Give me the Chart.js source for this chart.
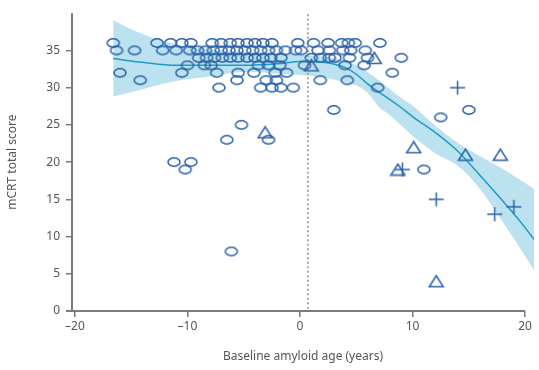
<!DOCTYPE html>
<html>
<head>
<meta charset="utf-8">
<script src="https://cdn.jsdelivr.net/npm/chart.js@4/dist/chart.umd.min.js"></script>
<style>
  html, body { margin: 0; padding: 0; background: #fff; }
</style>
</head>
<body>
<canvas id="grafico" width="539" height="370"></canvas>
<script>
// scores that hold the dense rows of circles, and the ages in each row
const rowScores = [36, 35, 34, 33, 32, 31, 30];
const rowAges = [
  [-16.6, -12.7, -11.5, -10.5, -9.7, -7.8, -7.0, -6.2, -5.5, -4.7, -4.0, -3.3, -2.5, -0.2, 1.2, 2.5, 3.7, 4.3, 4.9, 7.1],
  [-16.3, -14.7, -12.2, -11.0, -9.8, -9.1, -8.4, -7.7, -7.0, -6.3, -5.6, -4.9, -4.2, -3.5, -2.8, -2.1, -1.3, -0.4, 0.1, 1.6, 2.6, 3.8, 4.5, 5.8],
  [-9.0, -8.3, -7.6, -6.9, -6.2, -5.5, -4.7, -4.0, -3.3, -2.6, -1.7, 1.0, 1.8, 2.6, 3.1, 4.4, 6.0, 9.0],
  [-10.0, -8.5, -7.9, -3.7, -2.8, -1.8, 0.4, 4.0, 5.7],
  [-16.0, -10.5, -7.4, -5.5, -4.1, -2.2, -1.2, 8.2],
  [-14.2, -5.6, -3.0, -2.1, 1.8, 4.2],
  [-7.2, -3.5, -2.5, -1.7, -0.6, 6.9]
];
// the other circles [age, score]
const otherCircles = [[-11.2, 20], [-9.7, 20], [-10.2, 19], [-6.5, 23], [-5.2, 25], [-2.8, 23],
  [-6.1, 8], [3.0, 27], [12.5, 26], [15.0, 27], [11.0, 19]];
const triangles = [[-3.1, 24], [1.0, 33], [6.6, 34], [10.1, 22], [14.7, 21], [17.8, 21], [8.7, 19], [12.1, 4]];
const crosses = [[14.0, 30], [9.1, 19], [12.1, 15], [17.3, 13], [19.0, 14]];

// fitted curve and its confidence band
const fitAges  = [-16.6, -14, -11, -8, -5, -2, 0, 2, 4, 5, 6, 7, 8, 9, 10, 12, 14, 16, 18, 20, 20.8];
const fitScore = [33.9, 33.4, 33.0, 33.0, 33.0, 33.2, 33.5, 33.4, 32.7, 31.8, 30.5, 29.4, 28.4, 27.3, 26.1, 24.0, 21.5, 18.2, 14.8, 11.2, 9.6];
const bandHigh = [39.1, 37.2, 35.8, 35.1, 34.8, 34.5, 34.4, 34.2, 33.6, 33.0, 32.1, 31.0, 29.8, 28.6, 27.6, 24.9, 22.6, 20.8, 19.1, 17.2, 16.4];
const bandLow  = [28.8, 29.8, 30.9, 31.5, 32.1, 31.9, 31.7, 31.4, 30.7, 30.3, 29.3, 27.4, 26.3, 24.9, 23.5, 21.2, 19.5, 16.4, 12.0, 7.4, 5.4];

const amyloidLine = 0.7;
const xTicks = [-20, -10, 0, 10, 20];
const yTicks = [0, 5, 10, 15, 20, 25, 30, 35];

const azul = '#2b62a8';
const fonte = 'Noto Sans';

function marcador(desenho, w, h) {
  const c = document.createElement('canvas');
  c.width = w; c.height = h;
  const g = c.getContext('2d');
  g.strokeStyle = azul;
  g.lineWidth = 1.5;
  g.beginPath();
  desenho(g);
  g.stroke();
  return c;
}
const elipse = marcador(g => g.ellipse(8, 6, 6, 4.2, 0, 0, Math.PI * 2), 16, 12);
const triangulo = marcador(g => { g.moveTo(8.5, 1.5); g.lineTo(15.5, 12.5); g.lineTo(1.5, 12.5); g.closePath(); }, 17, 14);
const cruz = marcador(g => { g.moveTo(1, 8); g.lineTo(16, 8); g.moveTo(8.5, 1); g.lineTo(8.5, 15); }, 17, 16);

const circulos = [];
rowScores.forEach((s, i) => rowAges[i].forEach(a => circulos.push({ x: a, y: s })));
otherCircles.forEach(p => circulos.push({ x: p[0], y: p[1] }));

const pares = (xs, ys) => xs.map((x, i) => ({ x: x, y: ys[i] }));

// linhas dos eixos
const eixos = {
  id: 'eixos',
  beforeDatasetsDraw(chart) {
    const { ctx, chartArea, scales } = chart;
    ctx.save();
    ctx.strokeStyle = '#7a7a7a';
    ctx.lineWidth = 2;
    ctx.beginPath();
    ctx.moveTo(chartArea.left, chartArea.top);
    ctx.lineTo(chartArea.left, chartArea.bottom);
    ctx.moveTo(chartArea.left - 6, chartArea.bottom);
    ctx.lineTo(scales.x.getPixelForValue(20), chartArea.bottom);
    ctx.stroke();
    ctx.restore();
  }
};

new Chart(document.getElementById('grafico'), {
  type: 'scatter',
  data: {
    datasets: [
      { data: circulos, pointStyle: elipse, order: 0 },
      { data: pares(triangles.map(p => p[0]), triangles.map(p => p[1])), pointStyle: triangulo, order: 0 },
      { data: pares(crosses.map(p => p[0]), crosses.map(p => p[1])), pointStyle: cruz, order: 0 },
      {
        type: 'line', data: pares(fitAges, fitScore), borderColor: '#1c9cc6', borderWidth: 1.5,
        pointRadius: 0, cubicInterpolationMode: 'monotone', fill: false, order: 1
      },
      {
        type: 'line', data: pares(fitAges, bandHigh), borderWidth: 0, borderColor: 'rgba(0,0,0,0)',
        pointRadius: 0, cubicInterpolationMode: 'monotone', fill: '+1', backgroundColor: '#bde2ef', order: 3
      },
      {
        type: 'line', data: pares(fitAges, bandLow), borderWidth: 0, borderColor: 'rgba(0,0,0,0)',
        pointRadius: 0, cubicInterpolationMode: 'monotone', fill: false, order: 3
      },
      {
        type: 'line', data: [{ x: amyloidLine, y: 0.3 }, { x: amyloidLine, y: 40 }], borderColor: '#8a8a8a',
        borderWidth: 1.5, borderDash: [2, 2.5], pointRadius: 0, fill: false, order: 2
      }
    ]
  },
  options: {
    responsive: false,
    animation: false,
    devicePixelRatio: 1,
    layout: { padding: { top: 8, right: 0, left: 0, bottom: 0 } },
    plugins: { legend: { display: false }, tooltip: { enabled: false } },
    scales: {
      x: {
        type: 'linear', min: -20.26, max: 20.79,
        afterBuildTicks: s => { s.ticks = xTicks.map(v => ({ value: v })); },
        afterFit: s => { s.height = 59; },
        border: { display: false },
        grid: { drawOnChartArea: false, drawTicks: true, tickLength: 6, color: '#7a7a7a', lineWidth: 1.5 },
        ticks: {
          color: '#555', padding: 2, font: { family: fonte, size: 12 },
          callback: v => v < 0 ? '\u2013' + Math.abs(v) : String(v)
        },
        title: {
          display: true, text: 'Baseline amyloid age (years)', color: '#555',
          font: { family: fonte, size: 12 }, padding: { top: 0, bottom: 6 }
        }
      },
      y: {
        type: 'linear', min: 0, max: 40,
        afterBuildTicks: s => { s.ticks = yTicks.map(v => ({ value: v })); },
        afterFit: s => { s.width = 72; },
        border: { display: false },
        grid: { drawOnChartArea: false, drawTicks: true, tickLength: 6, color: '#7a7a7a', lineWidth: 1.5 },
        ticks: { color: '#555', padding: 6, font: { family: fonte, size: 12 } },
        title: {
          display: true, text: 'mCRT total score', color: '#555',
          font: { family: fonte, size: 12 }, padding: { top: 5, bottom: 0 }
        }
      }
    }
  },
  plugins: [eixos]
});
</script>
</body>
</html>
